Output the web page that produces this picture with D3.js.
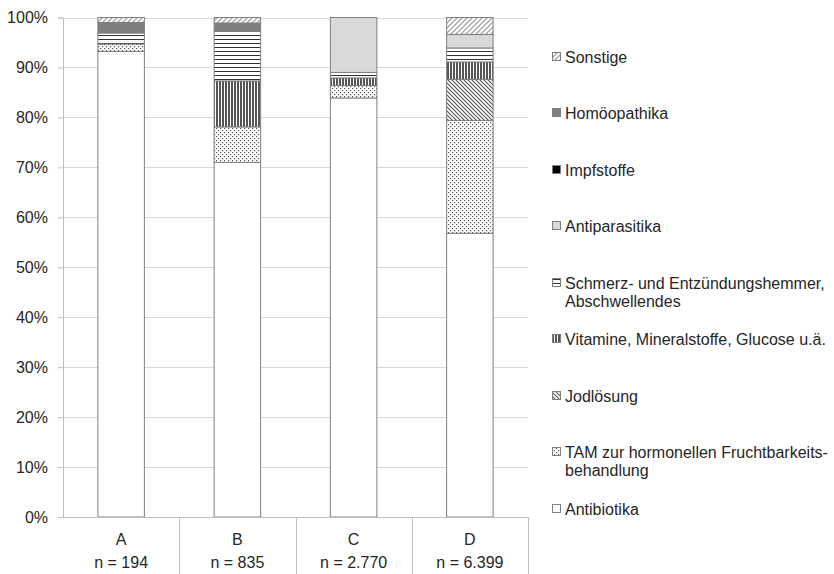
<!DOCTYPE html>
<html>
<head>
<meta charset="utf-8">
<script src="https://cdn.jsdelivr.net/npm/d3@7"></script>
<style>
  html, body { margin: 0; padding: 0; background: #fff; }
  svg { display: block; font-family: "Liberation Sans", Arial, sans-serif; }
</style>
</head>
<body>
<svg id="chart" width="834" height="574"></svg>
<script>
// ---- data ----
const categories = ["A", "B", "C", "D"];
const nLabels = ["n = 194", "n = 835", "n = 2.770", "n = 6.399"];
const yTicks = [0, 10, 20, 30, 40, 50, 60, 70, 80, 90, 100];

// series, bottom to top (percent)
const antibiotika    = [93.2, 71.0, 83.9, 56.8];
const tam            = [1.5, 7.1, 2.5, 22.6];
const jodloesung     = [0, 0, 0, 8.2];
const vitamine       = [0, 9.2, 1.5, 3.5];
const schmerz        = [2.2, 9.9, 1.1, 2.8];
const antiparasitika = [0, 0, 11.0, 2.7];
const impfstoffe     = [0, 0, 0, 0];
const homoeopathika  = [2.1, 1.7, 0, 0];
const sonstige       = [1.0, 1.1, 0, 3.4];

const seriesKeys = ["antibiotika","tam","jod","vit","schmerz","antipar","impf","homoeo","sonstige"];
const seriesValues = [antibiotika, tam, jodloesung, vitamine, schmerz, antiparasitika, impfstoffe, homoeopathika, sonstige];
const legendLabels = {
  sonstige: ["Sonstige"],
  homoeo: ["Homöopathika"],
  impf: ["Impfstoffe"],
  antipar: ["Antiparasitika"],
  schmerz: ["Schmerz- und Entzündungshemmer,", "Abschwellendes"],
  vit: ["Vitamine, Mineralstoffe, Glucose u.ä."],
  jod: ["Jodlösung"],
  tam: ["TAM zur hormonellen Fruchtbarkeits-", "behandlung"],
  antibiotika: ["Antibiotika"]
};
const legendOrder = ["sonstige","homoeo","impf","antipar","schmerz","vit","jod","tam","antibiotika"];

// ---- setup ----
const svg = d3.select("#chart");
const M = { left: 63, right: 528, top: 17.5, bottom: 517 };

const x = d3.scaleBand().domain(categories).range([M.left, M.right]).paddingInner(0.6).paddingOuter(0.3);
const xCat = d3.scaleBand().domain(categories).range([M.left, M.right]);
const y = d3.scaleLinear().domain([0, 100]).range([M.bottom, M.top]);

// patterns
const defs = svg.append("defs");
function pat(id, w, h, draw) {
  const p = defs.append("pattern").attr("id", id).attr("patternUnits", "userSpaceOnUse")
    .attr("width", w).attr("height", h);
  p.append("rect").attr("width", w).attr("height", h).attr("fill", "#fff");
  draw(p);
}
pat("p-sonstige", 5, 5, p => {
  p.append("path").attr("d", "M-1,6 L6,-1 M-1,1 L1,-1 M4,6 L6,4").attr("stroke", "#a6a6a6").attr("stroke-width", 1.4);
});
pat("p-schmerz", 4, 4, p => {
  p.append("rect").attr("x", 0).attr("y", 3).attr("width", 4).attr("height", 1).attr("fill", "#333");
});
pat("p-vit", 3, 3, p => {
  p.append("rect").attr("x", 0).attr("y", 0).attr("width", 2).attr("height", 3).attr("fill", "#555");
});
pat("p-jod", 4, 4, p => {
  p.append("path").attr("d", "M-1,-1 L5,5 M-1,3 L1,5 M3,-1 L5,1").attr("stroke", "#555").attr("stroke-width", 1.1);
});
pat("p-tam", 4, 4, p => {
  p.append("rect").attr("x", 0).attr("y", 0).attr("width", 1.2).attr("height", 1.2).attr("fill", "#555");
  p.append("rect").attr("x", 2).attr("y", 2).attr("width", 1.2).attr("height", 1.2).attr("fill", "#555");
});

const fills = {
  antibiotika: "#ffffff",
  tam: "url(#p-tam)",
  jod: "url(#p-jod)",
  vit: "url(#p-vit)",
  schmerz: "url(#p-schmerz)",
  antipar: "#d9d9d9",
  impf: "#000000",
  homoeo: "#7f7f7f",
  sonstige: "url(#p-sonstige)"
};

// gridlines
svg.append("g").selectAll("line").data(yTicks.filter(t => t > 0)).join("line")
  .attr("x1", M.left).attr("x2", M.right)
  .attr("y1", d => Math.round(y(d)) + 0.5).attr("y2", d => Math.round(y(d)) + 0.5)
  .attr("stroke", "#d9d9d9").attr("stroke-width", 1);

// y axis
const yAxis = d3.axisLeft(y).tickValues(yTicks).tickFormat(d => d + "%").tickSize(5).tickPadding(10);
const gy = svg.append("g").attr("transform", `translate(${M.left},0)`).call(yAxis);
gy.select(".domain").attr("stroke", "#bfbfbf");
gy.selectAll(".tick line").attr("stroke", "#bfbfbf");
gy.selectAll(".tick text").attr("font-size", 16).attr("fill", "#262626")
  .attr("font-family", "'Liberation Sans', Arial, sans-serif");

// stacked bars
const table = categories.map((c, i) => {
  const o = { cat: c };
  seriesKeys.forEach((k, j) => o[k] = seriesValues[j][i]);
  return o;
});
const stack = d3.stack().keys(seriesKeys)(table);
svg.append("g").selectAll("g").data(stack).join("g")
  .attr("fill", d => fills[d.key])
  .selectAll("rect").data(d => d.filter(s => s[1] - s[0] > 0)).join("rect")
  .attr("x", d => x(d.data.cat))
  .attr("width", x.bandwidth())
  .attr("y", d => y(d[1]))
  .attr("height", d => y(d[0]) - y(d[1]))
  .attr("stroke", "#7f7f7f").attr("stroke-width", 1);

// x axis (multi-level category labels)
const gx = svg.append("g");
gx.append("line").attr("x1", M.left - 5).attr("x2", M.right)
  .attr("y1", M.bottom + 0.5).attr("y2", M.bottom + 0.5).attr("stroke", "#bfbfbf");
const seps = categories.slice(1).map(c => xCat(c)).concat([M.right]);
gx.selectAll("line.sep").data(seps).join("line").attr("class", "sep")
  .attr("x1", d => Math.round(d) + 0.5).attr("x2", d => Math.round(d) + 0.5)
  .attr("y1", M.bottom).attr("y2", 574).attr("stroke", "#bfbfbf");
gx.selectAll("text.cat").data(categories).join("text").attr("class", "cat")
  .attr("x", d => xCat(d) + xCat.bandwidth() / 2).attr("y", 539)
  .attr("dy", "0.35em").attr("text-anchor", "middle").attr("font-size", 16).attr("fill", "#262626")
  .text(d => d);
gx.selectAll("text.n").data(categories).join("text").attr("class", "n")
  .attr("x", d => xCat(d) + xCat.bandwidth() / 2).attr("y", 562)
  .attr("dy", "0.35em").attr("text-anchor", "middle").attr("font-size", 16).attr("fill", "#262626")
  .text((d, i) => nLabels[i]);

// legend
const legendY = { sonstige: 57, homoeo: 113, impf: 170, antipar: 226, schmerz: 283, vit: 339, jod: 396, tam: 452, antibiotika: 509 };
const lg = svg.append("g");
legendOrder.forEach(k => {
  const cy = legendY[k];
  lg.append("rect").attr("x", 552.5).attr("y", cy - 4.5).attr("width", 8).attr("height", 8)
    .attr("fill", fills[k]).attr("stroke", "#7f7f7f").attr("stroke-width", 1);
  const t = lg.append("text").attr("x", 565).attr("y", cy).attr("font-size", 16).attr("fill", "#262626");
  legendLabels[k].forEach((line, i) => {
    t.append("tspan").attr("x", 565).attr("dy", i === 0 ? "0.35em" : "18.5px").text(line);
  });
});
</script>
</body>
</html>
